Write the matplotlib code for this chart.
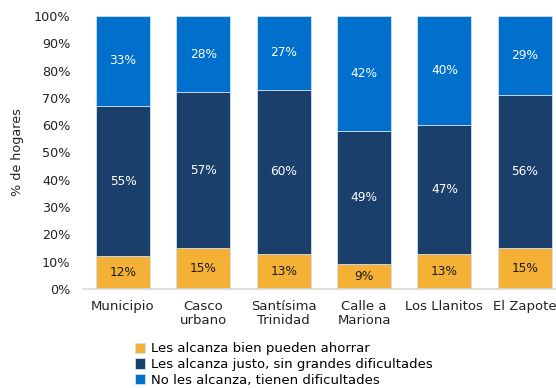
import matplotlib
matplotlib.use("Agg")
import matplotlib.pyplot as plt
import numpy as np

categories = ["Municipio", "Casco\nurbano", "Santísima\nTrinidad", "Calle a\nMariona", "Los Llanitos", "El Zapote"]
ahorrar = [12, 15, 13, 9, 13, 15]
justo = [55, 57, 60, 49, 47, 56]
no_alcanza = [33, 28, 27, 42, 40, 29]
series_names = ["Les alcanza bien pueden ahorrar",
                "Les alcanza justo, sin grandes dificultades",
                "No les alcanza, tienen dificultades"]
colors = ["#F4B136", "#1B3F6B", "#0070CC"]
text_colors = ["#1a1a1a", "white", "white"]

plt.rcParams["font.family"] = ["DejaVu Sans"]

fig = plt.figure(figsize=(5.56, 3.88), dpi=100)
ax = fig.add_axes([0.149, 0.255, 0.851, 0.704])

x = np.arange(len(categories))
bottom = np.zeros(len(categories))
handles = []
for vals, col, tcol, name in zip([ahorrar, justo, no_alcanza], colors, text_colors, series_names):
    vals = np.array(vals, dtype=float)
    bars = ax.bar(x, vals, 0.67, bottom=bottom, color=col, edgecolor="#cfe0f0",
                  linewidth=0.6, label=name)
    handles.append(bars)
    for xi, b, v in zip(x, bottom, vals):
        ax.text(xi, b + v / 2, f"{int(v)}%", ha="center", va="center",
                color=tcol, fontsize=8.7)
    bottom += vals

ax.set_xlim(-0.5, 5.39)
ax.set_ylim(0, 100)
ax.set_yticks(np.arange(0, 101, 10))
ax.set_yticklabels([f"{t}%" for t in range(0, 101, 10)], fontsize=9.2, color="#222222")
ax.set_xticks(x)
ax.set_xticklabels(categories, fontsize=9.5, color="#222222", linespacing=1.1)
ax.tick_params(axis="both", length=0)
ax.tick_params(axis="x", pad=8)
ax.tick_params(axis="y", pad=9)
for s in ["top", "right", "left"]:
    ax.spines[s].set_visible(False)
ax.spines["bottom"].set_color("#d9d9d9")
ax.spines["bottom"].set_linewidth(1.2)
ax.set_ylabel("% de hogares", fontsize=9.2, color="#222222", labelpad=7)

fig.legend(handles=handles, labels=series_names, loc="upper left",
           bbox_to_anchor=(0.242, 0.118), frameon=False, fontsize=9.5,
           handlelength=0.8, handleheight=0.8, handletextpad=0.45,
           labelspacing=0.22, borderaxespad=0, borderpad=0)

fig.savefig("out.png", dpi=100)
